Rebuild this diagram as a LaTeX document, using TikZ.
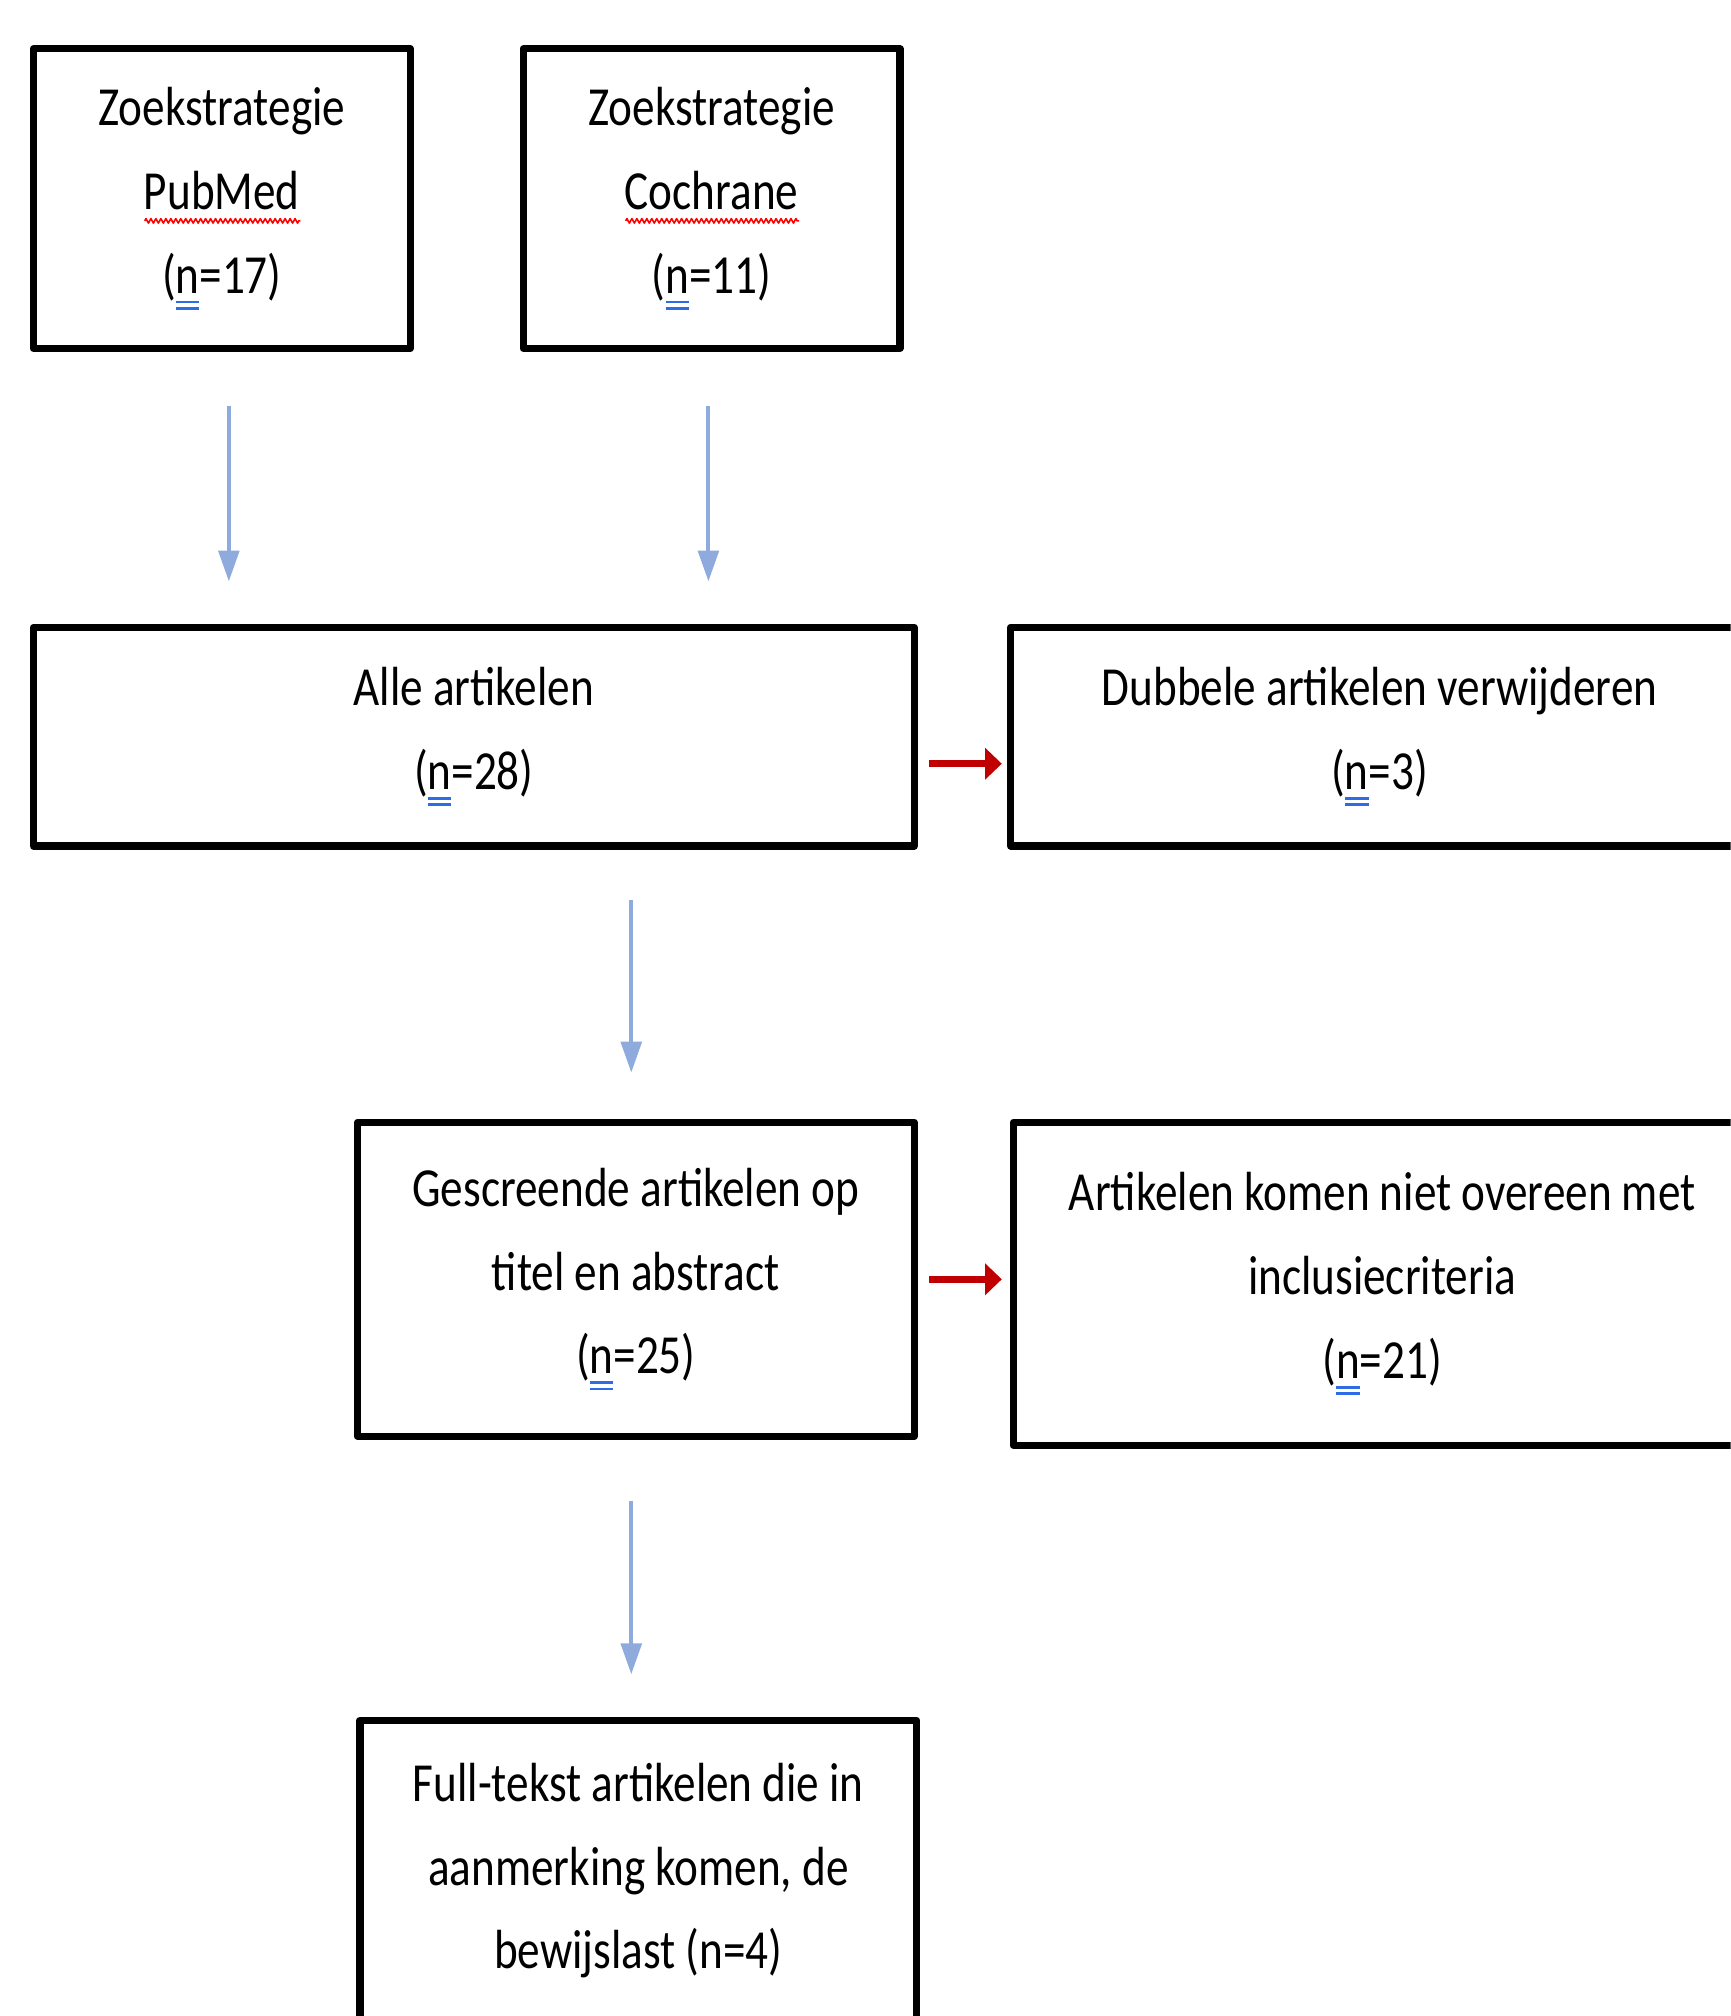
\documentclass[tikz,border=0pt]{standalone}
\usepackage{fontspec}
\setmainfont{Carlito}[FakeStretch=0.82]
\usetikzlibrary{arrows.meta,decorations.pathmorphing}
\definecolor{flowblue}{HTML}{8FAADC}
\definecolor{rejectred}{HTML}{C00000}
\definecolor{spellred}{HTML}{FF0000}
\definecolor{gramblue}{HTML}{2E6BE6}
\newsavebox{\markbox}
\newcommand{\spellw}[1]{\sbox{\markbox}{#1}\rlap{\raisebox{-3.2pt}{\tikz\draw[spellred, line width=0.35pt, decorate, decoration={zigzag, amplitude=0.5pt, segment length=1.1pt}] (0,0) -- (\wd\markbox,0);}}\usebox{\markbox}}
\newcommand{\gramn}[1]{\sbox{\markbox}{#1}\rlap{\color{gramblue}\rule[-2.3pt]{\wd\markbox}{0.6pt}}\rlap{\color{gramblue}\rule[-3.7pt]{\wd\markbox}{0.6pt}}\usebox{\markbox}}
\begin{document}
\begin{tikzpicture}[x=0.1mm, y=-0.1mm, line join=round,
		box/.style={draw, line width=1.6pt, align=center, inner sep=0pt, font=\fontsize{12.2}{18.5}\selectfont},
		flow/.style={draw=flowblue, line width=0.9pt, -{Triangle[length=2.4mm, width=1.6mm]}},
		reject/.style={draw=rejectred, line width=1.6pt, -{Triangle[length=1.3mm, width=2.4mm]}}]
	\useasboundingbox (0,0) rectangle (1346,1568);
	\clip (0,0) rectangle (1346,1568);
	% zoekstrategie
	\node[box, minimum width=29.3mm, minimum height=23.3mm] (pub) at (172.5,154.5) {Zoekstrategie\\ \spellw{PubMed}\\ (\gramn{n}=17)};
	\node[box, minimum width=29.3mm, minimum height=23.3mm] (coch) at (553.5,154.5) {Zoekstrategie\\ \spellw{Cochrane}\\ (\gramn{n}=11)};
	% samenvoegen
	\node[box, minimum width=68.5mm, minimum height=17mm] (alle) at (368.5,573) {Alle artikelen\\ (\gramn{n}=28)};
	\node[box, minimum width=57.4mm, minimum height=17mm] (dub) at (1073,573) {Dubbele artikelen verwijderen\\ (\gramn{n}=3)};
	% screening
	\node[box, minimum width=43.3mm, minimum height=24.4mm] (gesc) at (494.5,995) {Gescreende artikelen op\\ titel en abstract\\ (\gramn{n}=25)};
	\node[box, minimum width=57.4mm, minimum height=25.1mm] (excl) at (1075,998.5) {Artikelen komen niet overeen met\\ inclusiecriteria\\ (\gramn{n}=21)};
	\node[box, minimum width=43.3mm, minimum height=23.4mm] (full) at (496.5,1455) {Full-tekst artikelen die in\\ aanmerking komen, de\\ bewijslast (n=4)};
	% pijlen
	\draw[flow, shorten <=4.2mm, shorten >=3.3mm] ([xshift=0.55mm]pub.south) -- ([xshift=0.55mm]pub.south |- alle.north);
	\draw[flow, shorten <=4.2mm, shorten >=3.3mm] ([xshift=-0.25mm]coch.south) -- ([xshift=-0.25mm]coch.south |- alle.north);
	\draw[flow, shorten <=3.9mm, shorten >=3.6mm] ([xshift=-0.35mm]gesc.north |- alle.south) -- ([xshift=-0.35mm]gesc.north);
	\draw[flow, shorten <=4.8mm, shorten >=3.3mm] ([xshift=-0.35mm]gesc.south) -- ([xshift=-0.35mm]gesc.south |- full.north);
	\draw[reject, shorten <=0.9mm, shorten >=0.4mm] ([yshift=-2.1mm]alle.east) -- ([yshift=-2.1mm]alle.east -| dub.west);
	\draw[reject, shorten <=0.9mm, shorten >=0.6mm] (gesc.east) -- (gesc.east -| excl.west);
\end{tikzpicture}
\end{document}
